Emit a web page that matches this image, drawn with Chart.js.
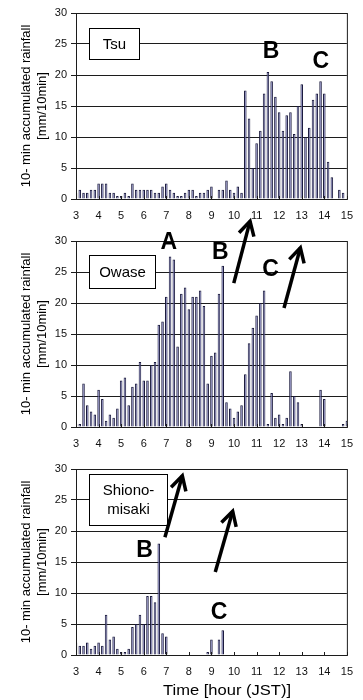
<!DOCTYPE html>
<html>
<head>
<meta charset="utf-8">
<script src="https://cdn.jsdelivr.net/npm/chart.js@4.4.0/dist/chart.umd.min.js"></script>
<style>
  html, body { margin: 0; padding: 0; background: #fff; }
  #wrap { position: relative; width: 363px; height: 700px; overflow: hidden; background: #fff; }
  canvas { position: absolute; left: 0; }
</style>
</head>
<body>
<div id="wrap">
  <canvas id="tsu" width="363" height="228" style="top:0px"></canvas>
  <canvas id="owase" width="363" height="256" style="top:200px"></canvas>
  <canvas id="shiono" width="363" height="244" style="top:456px"></canvas>
</div>
<script>
// 10-minute time steps, 3:00 to 15:00 JST
const times = [
  '3:00','3:10','3:20','3:30','3:40','3:50',
  '4:00','4:10','4:20','4:30','4:40','4:50',
  '5:00','5:10','5:20','5:30','5:40','5:50',
  '6:00','6:10','6:20','6:30','6:40','6:50',
  '7:00','7:10','7:20','7:30','7:40','7:50',
  '8:00','8:10','8:20','8:30','8:40','8:50',
  '9:00','9:10','9:20','9:30','9:40','9:50',
  '10:00','10:10','10:20','10:30','10:40','10:50',
  '11:00','11:10','11:20','11:30','11:40','11:50',
  '12:00','12:10','12:20','12:30','12:40','12:50',
  '13:00','13:10','13:20','13:30','13:40','13:50',
  '14:00','14:10','14:20','14:30','14:40','14:50',
  '15:00'
];

// hour labels shown on the time axis
const hourLabels = ['3','4','5','6','7','8','9','10','11','12','13','14','15'];

// rainfall in mm per 10 min
const tsuRain = [
  1, 1.5, 1, 1, 1.5, 1.5,
  2.5, 2.5, 2.5, 1, 1, 0.5,
  0.5, 1, 0.5, 2.5, 1.5, 1.5,
  1.5, 1.5, 1.5, 1, 1, 2,
  2.5, 1.5, 1, 0.5, 0.5, 1,
  1.5, 1.5, 0.5, 1, 1, 1.5,
  2, 0, 1.5, 1.5, 3, 1.5,
  1, 2, 1, 17.5, 13, 5,
  9, 11, 17, 20.5, 19, 16.5,
  14, 11, 13.5, 14, 10.5, 15,
  18.5, 10, 11.5, 16, 17, 19,
  17, 6, 3.5, 0, 1.5, 1,
  0
];
const owaseRain = [
  0.5, 0.5, 7, 3.5, 2.5, 2,
  6, 4.5, 1, 2, 1.5, 3,
  7.5, 8, 3.5, 6.5, 7, 10.5,
  7.5, 7.5, 10, 10.5, 16.5, 17,
  21, 27.5, 27, 13, 21.5, 22.5,
  19, 21, 21, 22, 19.5, 7,
  11.5, 12, 21.5, 26, 4, 3,
  1.5, 2.5, 3.5, 8.5, 13.5, 16,
  18, 20, 22, 0.5, 5.5, 1.5,
  2, 0.5, 1.5, 9, 5, 4,
  0.5, 0, 0, 0, 0, 6,
  4.5, 0, 0, 0, 0, 0.5,
  1
];
const shionoRain = [
  2, 1.5, 1.5, 2, 1, 1.5,
  2, 1.5, 6.5, 2.5, 3, 1,
  0.5, 0.5, 1, 4.5, 5, 6.5,
  5, 9.5, 9.5, 8.5, 18, 3.5,
  3, 0, 0, 0, 0, 0,
  0, 0, 0, 0, 0, 0.5,
  2.5, 0, 2.5, 4, 0, 0,
  0, 0, 0, 0, 0, 0,
  0, 0, 0, 0, 0, 0,
  0, 0, 0, 0, 0, 0,
  0, 0, 0, 0, 0, 0,
  0, 0, 0, 0, 0, 0,
  0
];

const yTitle = ['10- min accumulated rainfall', '[mm/10min]'];
const xTitle = 'Time [hour (JST)]';

const FONT = '"Liberation Sans", Arial, Helvetica, sans-serif';
const INK = '#1c1c1c';
const BAR_FILL = '#8080c0';
const BAR_EDGE = '#1a1a3c';

// station label box, event letters (hour, mm) and arrows (tail hour, mm, tip hour, mm)
const decor = {
  tsu: {
    name: ['Tsu'], box: { dx: 13, dy: 15, w: 50, h: 31 },
    marks: [{ t: 'B', h: 11.64, v: 23.8 }, { t: 'C', h: 13.84, v: 22.2 }],
    arrows: []
  },
  owase: {
    name: ['Owase'], box: { dx: 13, dy: 14, w: 66, h: 33 },
    marks: [{ t: 'A', h: 7.11, v: 29.7 }, { t: 'B', h: 9.39, v: 28.2 }, { t: 'C', h: 11.62, v: 25.3 }],
    arrows: [[9.99, 23.2, 10.71, 33.2], [12.215, 19.2, 12.94, 28.9]]
  },
  shiono: {
    name: ['Shiono-', 'misaki'], box: { dx: 13, dy: 5, w: 78, h: 51 },
    marks: [{ t: 'B', h: 6.04, v: 16.9 }, { t: 'C', h: 9.34, v: 6.9 }],
    arrows: [[6.94, 19.0, 7.71, 28.9], [9.17, 13.4, 9.94, 23.2]],
    xTitle: true
  }
};

function hourToIndex(h) { return (h - 3) * 6; }

function drawArrow(ctx, x0, y0, x1, y1) {
  const ang = Math.atan2(y1 - y0, x1 - x0);
  const len = 16, spread = 0.5;
  ctx.beginPath();
  ctx.moveTo(x0, y0);
  ctx.lineTo(x1, y1);
  ctx.stroke();
  ctx.beginPath();
  ctx.moveTo(x1 - len * Math.cos(ang - spread), y1 - len * Math.sin(ang - spread));
  ctx.lineTo(x1, y1);
  ctx.lineTo(x1 - len * Math.cos(ang + spread), y1 - len * Math.sin(ang + spread));
  ctx.stroke();
}

const panelDecor = {
  id: 'panelDecor',
  afterDatasetsDraw(chart) {
    const o = decor[chart.canvas.id];
    const { ctx, chartArea: a, scales: { x, y } } = chart;
    const px = h => x.getPixelForValue(hourToIndex(h));
    ctx.save();

    // plot frame
    ctx.strokeStyle = INK;
    ctx.lineWidth = 1;
    ctx.strokeRect(a.left + 0.5, a.top + 0.5, a.right - a.left, a.bottom - a.top);

    // inward tick marks at each hour
    ctx.beginPath();
    for (let i = 0; i < hourLabels.length; i++) {
      const t = Math.round(x.getPixelForValue(i * 6)) + 0.5;
      ctx.moveTo(t, a.bottom);
      ctx.lineTo(t, a.bottom - 3);
    }
    ctx.stroke();

    // rotated y-axis title
    ctx.fillStyle = '#000';
    ctx.font = `13px ${FONT}`;
    ctx.textAlign = 'center';
    ctx.textBaseline = 'middle';
    const cy = (a.top + a.bottom) / 2;
    yTitle.forEach((line, i) => {
      ctx.save();
      ctx.translate(26 + 16 * i, cy);
      ctx.rotate(-Math.PI / 2);
      ctx.fillText(line, 0, 0);
      ctx.restore();
    });

    // station name box
    const b = o.box;
    ctx.fillStyle = '#fff';
    ctx.fillRect(a.left + b.dx, a.top + b.dy, b.w, b.h);
    ctx.strokeStyle = '#000';
    ctx.strokeRect(a.left + b.dx + 0.5, a.top + b.dy + 0.5, b.w, b.h);
    ctx.fillStyle = '#000';
    ctx.font = `15px ${FONT}`;
    const bx = a.left + b.dx + b.w / 2 + 0.5;
    const by = a.top + b.dy + b.h / 2 + 1;
    o.name.forEach((t, i) => ctx.fillText(t, bx, by + (i - (o.name.length - 1) / 2) * 19));

    // event letters
    ctx.font = `bold 23px ${FONT}`;
    o.marks.forEach(m => ctx.fillText(m.t, px(m.h), y.getPixelForValue(m.v)));

    // movement arrows
    ctx.strokeStyle = '#000';
    ctx.lineWidth = 3.5;
    ctx.lineJoin = 'miter';
    o.arrows.forEach(r => drawArrow(ctx, px(r[0]), y.getPixelForValue(r[1]), px(r[2]), y.getPixelForValue(r[3])));

    // time axis title (bottom panel only)
    if (o.xTitle) {
      ctx.font = `14px ${FONT}`;
      ctx.fillStyle = '#000';
      const w = ctx.measureText(xTitle).width;
      ctx.save();
      ctx.translate(227, a.bottom + 36);
      ctx.scale(128 / w, 1);
      ctx.fillText(xTitle, 0, 0);
      ctx.restore();
    }
    ctx.restore();
  }
};

function makePanel(id, values, padTop, xHeight) {
  return new Chart(document.getElementById(id), {
    type: 'bar',
    data: {
      labels: times,
      datasets: [{
        data: values,
        backgroundColor: BAR_FILL,
        borderColor: BAR_EDGE,
        borderWidth: { left: 1, right: 1, top: 1, bottom: 0 },
        categoryPercentage: 1,
        barPercentage: 0.68
      }]
    },
    options: {
      responsive: false,
      animation: false,
      devicePixelRatio: 1,
      layout: { padding: { top: padTop, right: 7, bottom: 0, left: 0 } },
      plugins: { legend: { display: false }, tooltip: { enabled: false } },
      scales: {
        x: {
          type: 'category',
          offset: false,
          grid: { display: false, drawTicks: false },
          border: { display: true, color: INK, width: 1 },
          ticks: {
            autoSkip: false, maxRotation: 0, minRotation: 0, padding: 10,
            color: '#111', font: { family: FONT, size: 11 },
            callback: (v, i) => (i % 6 === 0 ? hourLabels[i / 6] : '')
          },
          afterFit: s => { s.height = xHeight; }
        },
        y: {
          min: 0, max: 30,
          grid: { color: INK, lineWidth: 1, drawTicks: true, tickLength: 5 },
          border: { display: true, color: INK, width: 1 },
          ticks: { stepSize: 5, padding: 4, color: '#111', font: { family: FONT, size: 11 } },
          afterFit: s => { s.width = 76; }
        }
      }
    },
    plugins: [panelDecor]
  });
}

makePanel('tsu', tsuRain, 13, 29);
makePanel('owase', owaseRain, 41, 29);
makePanel('shiono', shionoRain, 13, 45);
</script>
</body>
</html>
